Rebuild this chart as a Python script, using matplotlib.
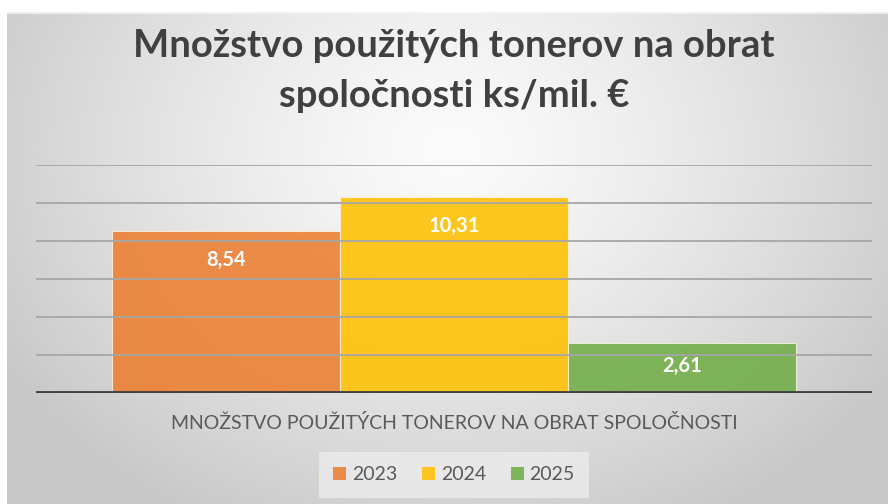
import numpy as np
import matplotlib
matplotlib.use("Agg")
import matplotlib.pyplot as plt
from matplotlib.patches import Patch

title = "Množstvo použitých tonerov na obrat\nspoločnosti ks/mil. €"
category = "MNOŽSTVO POUŽITÝCH TONEROV NA OBRAT SPOLOČNOSTI"
series = ["2023", "2024", "2025"]
values = [8.54, 10.31, 2.61]
labels = ["8,54", "10,31", "2,61"]
colors = ["#ED7D31", "#FFC000", "#70AD47"]

W, H = 888, 504
fig = plt.figure(figsize=(W / 100, H / 100), dpi=100)
fig.patch.set_facecolor("white")

# background gradient panel
bx0, by0 = 7, 12
bg = fig.add_axes([bx0 / W, 0, 1 - bx0 / W, 1 - by0 / H])
bg.set_axis_off()
yy, xx = np.mgrid[0:H - by0, 0:W - bx0]
cx, cy = 450 - bx0, 150 - by0
d = np.sqrt(((xx - cx) / 520.0) ** 2 + ((yy - cy) / 420.0) ** 2)
d = np.clip(d, 0, 1)
val = 0.985 - 0.2 * d ** 1.3
img = np.dstack([val, val, val])
bg.imshow(img, aspect="auto", extent=[0, 1, 0, 1], interpolation="bilinear")
bg.set_xlim(0, 1)
bg.set_ylim(0, 1)
bg.plot([0, 1], [0.998, 0.998], color="#f4f4f4", lw=1.2)

# main axes
x0, x1 = 36, 872
y_base, y_top = 393, 165
ax = fig.add_axes([x0 / W, (H - y_base) / H, (x1 - x0) / W, (y_base - y_top) / H])
ax.set_facecolor("none")
ax.set_xlim(0, 1)
ax.set_ylim(0, 12)
ax.set_yticks(np.arange(0, 13, 2))
ax.yaxis.grid(True, color="#a6a6a6", lw=1.3)
ax.set_axisbelow(False)
for s in ax.spines.values():
    s.set_visible(False)
ax.tick_params(left=False, labelleft=False, bottom=False, labelbottom=False)

bw = 228 / 836
for i, (v, c, lab) in enumerate(zip(values, colors, labels)):
    xc = 0.5 + (i - 1) * bw
    ax.bar(xc, v, width=bw, color=c, alpha=0.88, edgecolor="#f8f0e0", linewidth=0.8, zorder=1)
    ax.annotate(lab, (xc, v), xytext=(0, -29 if v > 5 else -23), textcoords="offset pixels",
                ha="center", va="center", color="white", fontsize=14.5,
                fontweight="bold", family="Lato", zorder=5)
ax.axhline(0, color="#404040", lw=3.5, zorder=6)

fig.text(454 / W, 1 - 71 / H, title, ha="center", va="center", fontsize=27.5,
         fontweight="bold", family="Lato", color="#404040", linespacing=1.55)

fig.text(454 / W, 1 - 423 / H, category, ha="center", va="center", fontsize=14,
         family="Lato", color="#595959")

handles = [Patch(facecolor=c, alpha=0.88, edgecolor="none") for c in colors]
leg = fig.legend(handles, series, loc="center", bbox_to_anchor=(454 / W, 1 - 475 / H),
                 ncol=3, frameon=True, fontsize=14, handlelength=0.65, handleheight=0.65,
                 handletextpad=0.3, columnspacing=1.3, borderpad=0.75)
leg.get_frame().set_facecolor("#e9e9e9")
leg.get_frame().set_edgecolor("none")
leg.get_frame().set_alpha(0.9)
leg.get_frame().set_boxstyle("square", pad=0)
for t in leg.get_texts():
    t.set_color("#595959")
    t.set_family("Lato")

fig.savefig("out.png", dpi=100)
